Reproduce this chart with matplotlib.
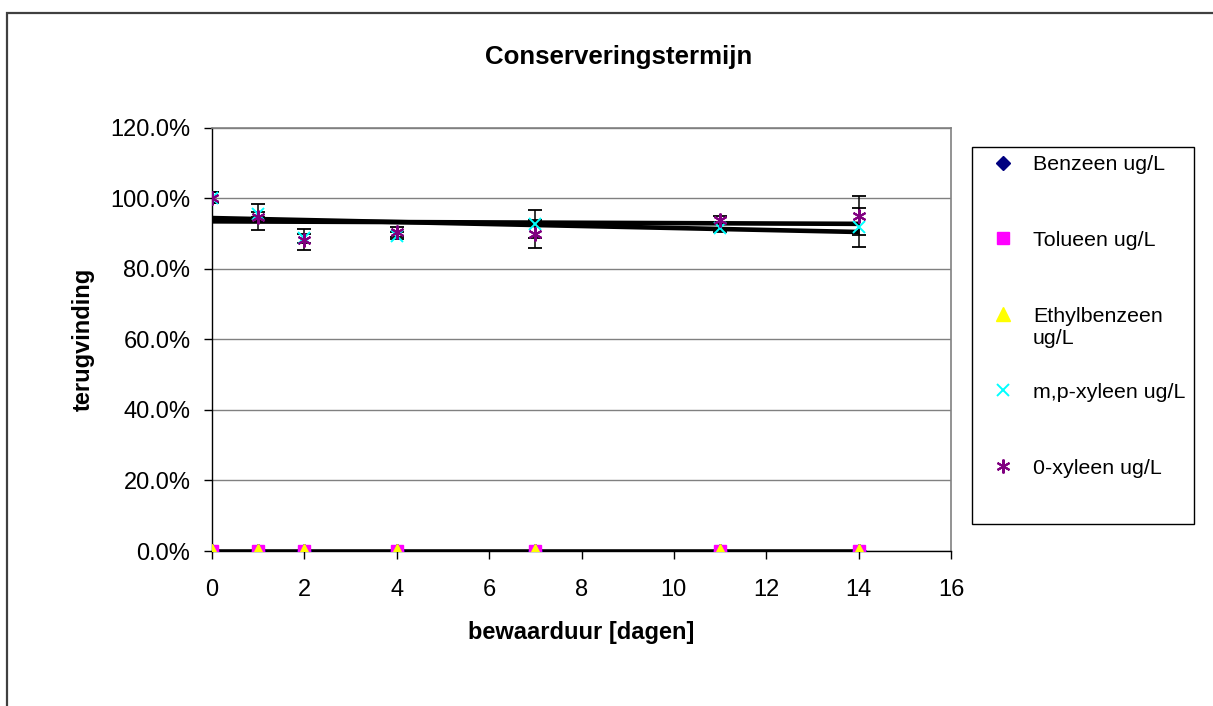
import matplotlib
matplotlib.use("Agg")
import matplotlib.pyplot as plt
import numpy as np
from matplotlib.patches import Rectangle
from matplotlib.ticker import FuncFormatter, MultipleLocator

plt.rcParams['font.family'] = ['Liberation Sans', 'DejaVu Sans']

# --- data (percent recovery) ---
days = [0, 1, 2, 4, 7, 11, 14]
benzeen = [0, 0, 0, 0, 0, 0, 0]
tolueen = [0, 0, 0, 0, 0, 0, 0]
ethylbenzeen = [0, 0, 0, 0, 0, 0, 0]
mp_xyleen = [100.2, 95.4, 88.6, 89.4, 92.7, 91.6, 91.8]
mp_xyleen_err = [1.5, 0.7, 1.4, 0.9, 3.9, 1.2, 5.5]
o_xyleen = [100.2, 94.6, 88.2, 90.4, 89.9, 93.8, 95.1]
o_xyleen_err = [1.5, 3.7, 3.0, 1.4, 4.0, 1.1, 5.4]

labels = ["Benzeen ug/L", "Tolueen ug/L", "Ethylbenzeen",
          "m,p-xyleen ug/L", "0-xyleen ug/L"]

W, H = 1213, 706
fig = plt.figure(figsize=(W / 100, H / 100), dpi=100)

# outer chart border (right/bottom edges run off the picture)
fig.patches.append(Rectangle((6.5 / W, -0.05), 1.2, 1 - 12.5 / H + 0.05,
                             transform=fig.transFigure, fill=False,
                             ec='#404040', lw=1.6))

ax = fig.add_axes([212 / W, (H - 551) / H, (951 - 212) / W, (551 - 127.7) / H])

x = np.array(days)

# trend lines (linear fits)
for ys in (benzeen, mp_xyleen, o_xyleen):
    k, b = np.polyfit(x, ys, 1)
    ax.plot([x.min(), x.max()], [b, b + k * x.max()], color='black', lw=3.3,
            zorder=3, solid_capstyle='butt')

# error bars
ax.errorbar(x, mp_xyleen, yerr=mp_xyleen_err, fmt='none', ecolor='black',
            elinewidth=1.1, capsize=5.2, capthick=1.3, zorder=4)
ax.errorbar(x, o_xyleen, yerr=o_xyleen_err, fmt='none', ecolor='black',
            elinewidth=1.1, capsize=5.2, capthick=1.3, zorder=4)

h1, = ax.plot(x, benzeen, ls='none', marker='D', ms=7, mfc='#000080', mec='#000080', zorder=5)
h2, = ax.plot(x, tolueen, ls='none', marker='s', ms=9.3, mfc='#FF00FF', mec='#FF00FF', zorder=5)
h3, = ax.plot(x, ethylbenzeen, ls='none', marker='^', ms=9.5, mfc='#FFFF00', mec='#FFFF00', zorder=5)
h4, = ax.plot(x, mp_xyleen, ls='none', marker='x', ms=9.2, mec='#00FFFF', mew=1.4, zorder=5)
h5, = ax.plot(x, o_xyleen, ls='none', marker=(6, 2, 0), ms=10, mec='#800080', mew=1.5, zorder=6)

ax.set_xlim(0, 16)
ax.set_ylim(0, 120)
ax.xaxis.set_major_locator(MultipleLocator(2))
ax.yaxis.set_major_locator(MultipleLocator(20))
ax.yaxis.set_major_formatter(FuncFormatter(lambda v, p: f"{v:.1f}%"))
ax.grid(axis='y', color='#808080', lw=1.0)
ax.set_axisbelow(True)

for s in ('top', 'right'):
    ax.spines[s].set_color('#808080')
    ax.spines[s].set_linewidth(1.2)
for s in ('left', 'bottom'):
    ax.spines[s].set_color('black')
    ax.spines[s].set_linewidth(1.0)

ax.tick_params(axis='both', direction='out', length=5.5, width=1.0,
               labelsize=17, color='black')
ax.tick_params(axis='x', pad=14.5)
ax.tick_params(axis='y', pad=10)
for lab in ax.get_xticklabels() + ax.get_yticklabels():
    lab.set_clip_on(False)

fig.text(619 / W, 1 - 57 / H, "Conserveringstermijn", ha='center', va='center',
         fontsize=18.6, fontweight='bold')
fig.text(581 / W, 1 - 632 / H, "bewaarduur [dagen]", ha='center', va='center',
         fontsize=17, fontweight='bold')
fig.text(83 / W, 1 - 339 / H, "terugvinding", ha='center', va='center',
         fontsize=17, fontweight='bold', rotation=90)

# legend box
fig.patches.append(Rectangle((972 / W, 1 - 524 / H), (1194 - 972) / W, (524 - 147) / H,
                             transform=fig.transFigure, fill=False, ec='black', lw=1.0))
fig.legend([h1, h2, h3, h4, h5], labels, loc='upper left',
           bbox_to_anchor=(990 / W, 1 - 155 / H), bbox_transform=fig.transFigure,
           frameon=False, fontsize=15.4, borderpad=0, borderaxespad=0,
           handlelength=1.2, handletextpad=0.8, labelspacing=2.66, numpoints=1)
# wrapped second line of the Ethylbenzeen entry
fig.text(1033 / W, 1 - 338 / H, "ug/L", ha='left', va='center', fontsize=15.4)

fig.savefig("out.png", dpi=100)
